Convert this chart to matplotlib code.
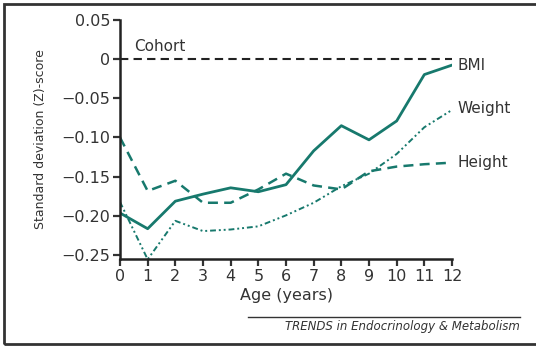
import matplotlib
matplotlib.use("Agg")
import matplotlib.pyplot as plt
from matplotlib.patches import Rectangle
from matplotlib.lines import Line2D

# values (z-score by age)
ages = [0, 1, 2, 3, 4, 5, 6, 7, 8, 9, 10, 11, 12]
bmi = [-0.196, -0.216, -0.181, -0.172, -0.164, -0.169, -0.160, -0.117, -0.085, -0.103, -0.079, -0.020, -0.008]
height = [-0.100, -0.168, -0.155, -0.183, -0.183, -0.166, -0.146, -0.161, -0.166, -0.143, -0.137, -0.134, -0.132]
weight = [-0.182, -0.255, -0.206, -0.219, -0.217, -0.213, -0.199, -0.183, -0.162, -0.146, -0.121, -0.087, -0.065]

yticks = [0.05, 0, -0.05, -0.10, -0.15, -0.20, -0.25]
ytick_labels = ['0.05', '0', '\u22120.05', '\u22120.10', '\u22120.15', '\u22120.20', '\u22120.25']

teal = '#17796d'
grey = '#333333'

plt.rcParams['font.family'] = ['DejaVu Sans']

fig = plt.figure(figsize=(5.36, 3.47), dpi=100)
ax = fig.add_axes([120/536, 1 - 259/347, (452 - 120)/536, (259 - 19.5)/347])

ax.plot([0, 12], [0, 0], color='#222222', lw=1.5, ls=(0, (4, 2.5)))
ax.plot(ages, bmi, color=teal, lw=2.0)
ax.plot(ages, height, color=teal, lw=1.8, ls=(0, (4, 2.5)))
ax.plot(ages, weight, color=teal, lw=1.4, ls=(0, (3, 1.5, 1, 1.5, 1, 1.5)))

ax.set_xlim(0, 12)
ax.set_ylim(-0.2545, 0.05)
ax.set_xticks(ages)
ax.set_yticks(yticks)
ax.set_yticklabels(ytick_labels)
ax.tick_params(direction='out', length=5, width=1.6, labelsize=11.5, colors=grey, pad=2)
for s in ['top', 'right']:
    ax.spines[s].set_visible(False)
for s in ['left', 'bottom']:
    ax.spines[s].set_linewidth(1.8)
    ax.spines[s].set_color('#222222')

ax.set_xlabel('Age (years)', fontsize=11.5, color=grey, labelpad=3)
ax.set_ylabel('Standard deviation (Z)-score', fontsize=9, color=grey, labelpad=10)

ax.text(0.5, 0.006, 'Cohort', fontsize=11, color=grey, va='bottom')
ax.text(12.2, -0.008, 'BMI', fontsize=11, color=grey, va='center')
ax.text(12.2, -0.063, 'Weight', fontsize=11, color=grey, va='center')
ax.text(12.2, -0.132, 'Height', fontsize=11, color=grey, va='center')

# outer frame and source line
fig.add_artist(Rectangle((4/536, 3/347), 540/536, (343 - 3)/347, transform=fig.transFigure,
                         fill=False, lw=2, edgecolor='#333333'))
fig.add_artist(Line2D([248/536, 520/536], [1 - 317/347, 1 - 317/347], transform=fig.transFigure,
                      color='#333333', lw=1))
fig.text(520/536, 1 - 320/347, 'TRENDS in Endocrinology & Metabolism', fontsize=8.5,
         style='italic', color='#333333', ha='right', va='top')

fig.savefig('out.png', dpi=100)
